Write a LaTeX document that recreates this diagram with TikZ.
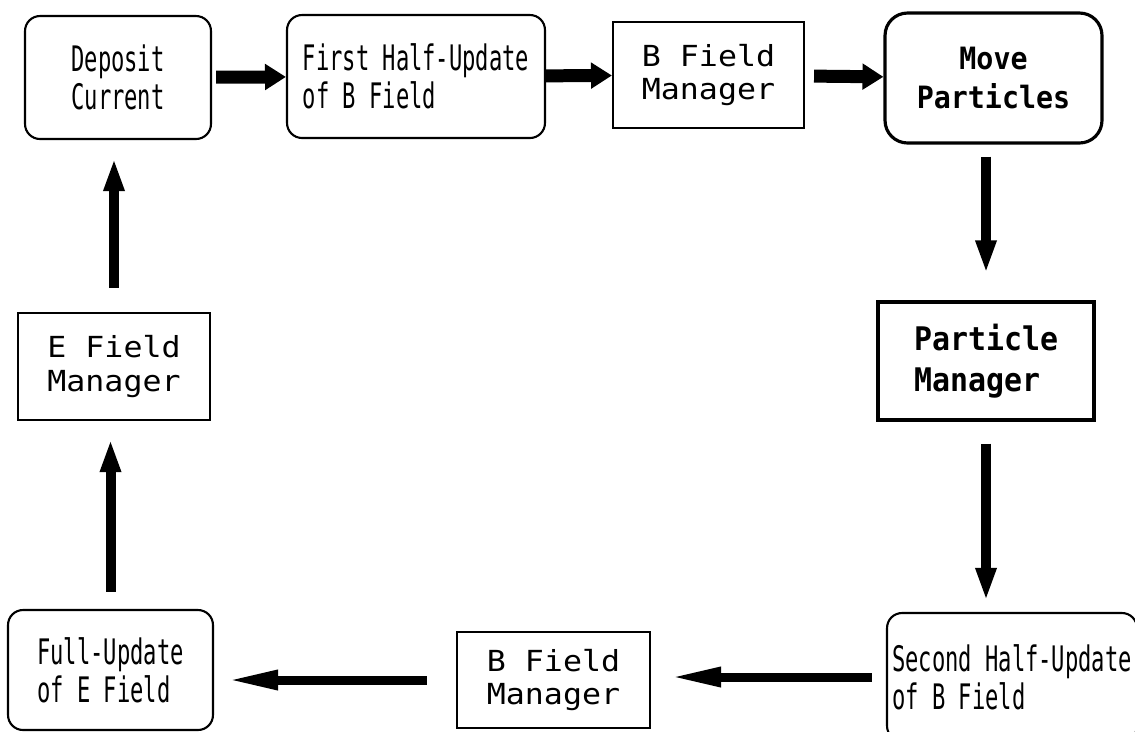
\documentclass[tikz,border=0pt]{standalone}
\usepackage{fontspec}
\usepackage{tikz}
\usetikzlibrary{arrows.meta, positioning}
\newfontfamily\roundfont[FakeStretch=0.63]{DejaVu Sans Mono}
\newfontfamily\rectfont[FakeStretch=1.09]{DejaVu Sans Mono}
\newfontfamily\heavyfont[FakeStretch=0.92]{DejaVu Sans Mono}

\begin{document}
\begin{tikzpicture}[
      x=0.02cm, y=-0.02cm,
      roundstage/.style={draw, line width=1.2pt, rounded corners=0.3cm, inner sep=0pt,
        align=left, font=\roundfont\fontsize{20}{21.5}\selectfont},
      managerbox/.style={draw, line width=1.2pt, inner sep=0pt, align=left,
        font=\rectfont\fontsize{16.5}{19}\selectfont},
      flow/.style={line width=0.2cm, -{Triangle[length=0.66cm, width=0.38cm]}},
      topflow/.style={line width=0.26cm, -{Triangle[length=0.42cm, width=0.5cm]}},
      baseflow/.style={line width=0.18cm, -{Triangle[length=1.04cm, width=0.36cm]}}
    ]
    \useasboundingbox (0,0) rectangle (1135,731);

    % Top row
    \node[roundstage, align=center, minimum width=3.72cm, minimum height=2.46cm] (deposit) at (118,77.5) {Deposit\\Current};
    \node[roundstage, minimum width=5.16cm, minimum height=2.46cm] (firstHalf) at (416,76.5) {First Half-Update\\of B Field};
    \node[managerbox, minimum width=3.82cm, minimum height=2.12cm] (bManagerTop) at (708.5,75) {B Field\\Manager};
    \node[roundstage, align=center, line width=1.8pt, rounded corners=0.45cm, minimum width=4.34cm, minimum height=2.6cm,
      font=\heavyfont\bfseries\fontsize{17.5}{22}\selectfont] (moveParticles) at (993.5,78) {Move\\Particles};

    % Right column
    \node[managerbox, line width=1.8pt, minimum width=4.32cm, minimum height=2.36cm,
      font=\heavyfont\bfseries\fontsize{18.5}{23}\selectfont] (particleManager) at (986,361) {Particle\\Manager};
    \node[roundstage, minimum width=5.0cm, minimum height=2.56cm] (secondHalf) at (1012,677) {Second Half-Update\\of B Field};

    % Bottom row and left column
    \node[managerbox, minimum width=3.86cm, minimum height=1.92cm] (bManagerBot) at (553.5,680) {B Field\\Manager};
    \node[roundstage, minimum width=4.1cm, minimum height=2.4cm] (fullUpdate) at (110.5,670) {Full-Update\\of E Field};
    \node[managerbox, minimum width=3.84cm, minimum height=2.14cm] (eManager) at (114,366.5) {E Field\\Manager};

    % Cycle
    \draw[topflow, shorten <=0.08cm] (deposit) -- (firstHalf);
    \draw[topflow] (firstHalf) -- (bManagerTop);
    \draw[topflow, shorten <=0.18cm] (bManagerTop) -- (moveParticles);

    \draw[flow, shorten <=0.24cm, shorten >=0.54cm] (particleManager.north |- moveParticles.south) -- (particleManager.north);
    \draw[flow, shorten <=0.44cm, shorten >=0.22cm] (particleManager.south) -- (particleManager.south |- secondHalf.north);

    \draw[baseflow, shorten <=0.28cm, shorten >=0.36cm] (secondHalf.west) -- (secondHalf.west -| bManagerBot.east);
    \draw[baseflow, shorten <=0.58cm, shorten >=0.24cm] (bManagerBot.west) -- (bManagerBot.west -| fullUpdate.east);

    \draw[flow, shorten <=0.34cm, shorten >=0.36cm] (fullUpdate.north) -- (fullUpdate.north |- eManager.south);
    \draw[flow, shorten <=0.48cm, shorten >=0.36cm] (eManager.north) -- (eManager.north |- deposit.south);

\end{tikzpicture}
\end{document}
